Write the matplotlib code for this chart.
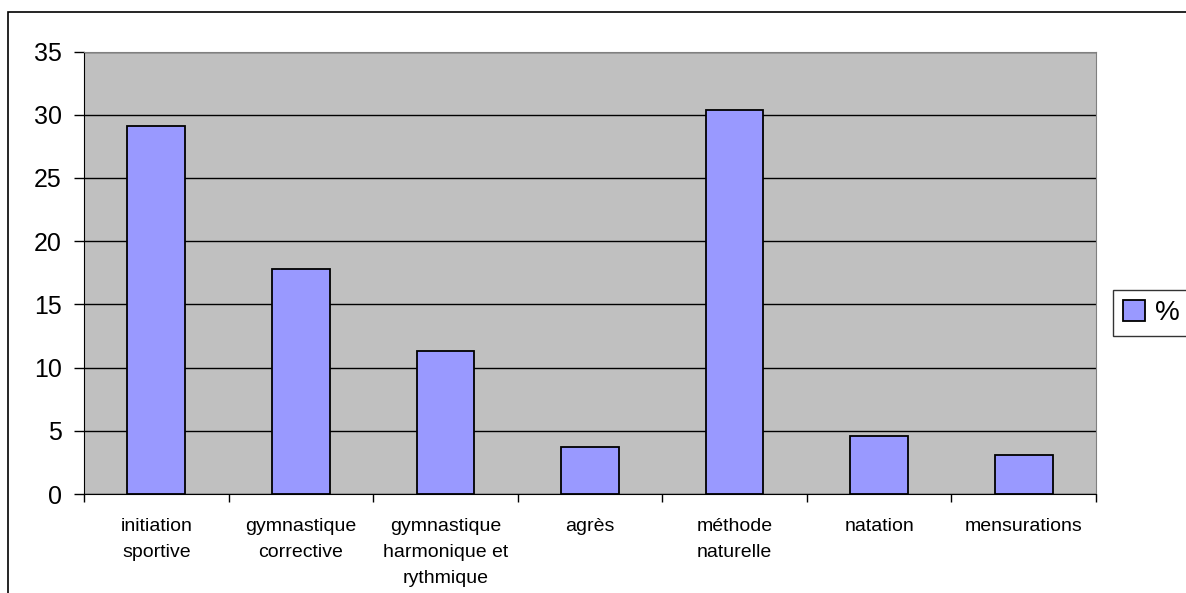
import matplotlib.pyplot as plt
from matplotlib.patches import Rectangle

plt.rcParams['font.family'] = ['Liberation Sans', 'DejaVu Sans']

categories = ["initiation\nsportive", "gymnastique\ncorrective", "gymnastique\nharmonique et\nrythmique",
              "agrès", "méthode\nnaturelle", "natation", "mensurations"]
values = [29.1, 17.8, 11.3, 3.7, 30.4, 4.6, 3.1]
series_name = "%"

fig = plt.figure(figsize=(11.86, 5.93), dpi=100)
ax = fig.add_axes([84 / 1186, 99 / 593, (1096 - 84) / 1186, (494 - 51.5) / 593])

# outer chart frame
fig.patches.append(Rectangle((8 / 1186, -0.1), 1.2, 1 - 12 / 593 + 0.1, transform=fig.transFigure,
                             fill=False, edgecolor='black', linewidth=1.2))

ax.set_facecolor('#c0c0c0')
x = range(len(categories))
ax.bar(x, values, width=0.4, color='#9999ff', edgecolor='black', linewidth=1.3,
       label=series_name, zorder=3)

ax.set_ylim(0, 35)
ax.set_yticks(range(0, 36, 5))
ax.yaxis.grid(True, color='black', linewidth=1, zorder=1)
ax.set_axisbelow(True)
ax.set_xlim(-0.5, len(categories) - 0.5)
ax.set_xticks(x)
ax.set_xticklabels(categories, fontsize=14, linespacing=1.7)
ax.set_xticks([i - 0.5 for i in range(len(categories) + 1)], minor=True)
ax.tick_params(axis='x', which='major', length=0, pad=17)
ax.tick_params(axis='x', which='minor', length=6, width=1)
ax.tick_params(axis='y', labelsize=18, length=7, width=1, pad=9)

for side in ['top', 'right']:
    ax.spines[side].set_color('#808080')
ax.spines['left'].set_color('black')
ax.spines['bottom'].set_color('black')

leg = fig.legend(loc='center left', bbox_to_anchor=(1113 / 1186, 1 - 313 / 593), fontsize=20,
                 frameon=True, fancybox=False, edgecolor='black', handlelength=0.8,
                 handleheight=0.8, handletextpad=0.35, borderpad=0.35, borderaxespad=0)
leg.get_frame().set_linewidth(1)

fig.savefig('out.png', dpi=100)
